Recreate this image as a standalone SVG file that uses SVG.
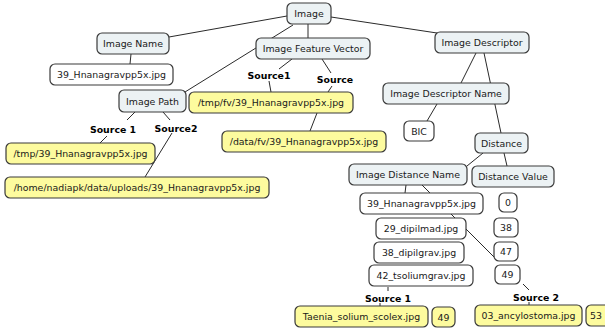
<svg xmlns="http://www.w3.org/2000/svg" width="605" height="329" viewBox="0 0 605 329">
<style>
.n rect{stroke:#3a3a3a;stroke-width:1.2;}
.b rect{fill:#ecf2f4;}
.w rect{fill:#ffffff;}
.y rect{fill:#fdfb9e;}
text{font-family:"DejaVu Sans","Verdana",sans-serif;font-size:9.4px;fill:#1a1a1a;text-anchor:middle;}
.lbl{font-weight:bold;fill:#000;}
#connectors line{stroke:#2a2a2a;stroke-width:1;}
</style>
<rect width="605" height="329" fill="#ffffff"/>
<g id="connectors">
<line x1="287" y1="16" x2="169" y2="37"/>
<line x1="331" y1="17" x2="437" y2="33"/>
<line x1="308" y1="24" x2="308" y2="38"/>
<line x1="293" y1="25" x2="185" y2="92"/>
<line x1="131" y1="54" x2="130" y2="64"/>
<line x1="292" y1="59" x2="279" y2="69"/>
<line x1="269" y1="81" x2="271" y2="92"/>
<line x1="322" y1="59" x2="331" y2="73"/>
<line x1="332" y1="86" x2="328" y2="92"/>
<line x1="317" y1="113" x2="310" y2="131"/>
<line x1="135" y1="112" x2="127" y2="120"/>
<line x1="107" y1="136" x2="100" y2="143"/>
<line x1="163" y1="112" x2="170" y2="120"/>
<line x1="172" y1="133" x2="145" y2="177"/>
<line x1="476" y1="53" x2="461" y2="83"/>
<line x1="484" y1="53" x2="501" y2="133"/>
<line x1="437" y1="104" x2="427" y2="121"/>
<line x1="483" y1="153" x2="467" y2="166"/>
<line x1="504" y1="153" x2="507" y2="166"/>
<line x1="406" y1="185" x2="405" y2="193"/>
<line x1="422" y1="185" x2="494" y2="257"/>
<line x1="388" y1="287" x2="388" y2="291"/>
<line x1="380" y1="303" x2="380" y2="306"/>
<line x1="523" y1="284" x2="529" y2="290"/>
<line x1="529" y1="302" x2="529" y2="305"/>
</g>
<g id="n-image" class="n b"><rect x="287" y="3" width="44" height="21" rx="5"/><text x="309" y="17">Image</text></g>
<g id="n-image-name" class="n b"><rect x="97" y="33" width="72" height="21" rx="5"/><text x="133" y="47">Image Name</text></g>
<g id="n-name-val" class="n w"><rect x="50" y="64" width="123" height="21" rx="5"/><text x="111.5" y="78">39_Hnanagravpp5x.jpg</text></g>
<g id="n-ifv" class="n b"><rect x="256" y="38" width="114" height="21" rx="5"/><text x="313" y="52">Image Feature Vector</text></g>
<g id="n-idesc" class="n b"><rect x="435" y="32" width="94" height="21" rx="5"/><text x="482" y="46">Image Descriptor</text></g>
<g id="n-idname" class="n b"><rect x="383" y="83" width="126" height="21" rx="5"/><text x="446" y="97">Image Descriptor Name</text></g>
<g id="n-ipath" class="n b"><rect x="119" y="90" width="67" height="22" rx="5"/><text x="152.5" y="104.5">Image Path</text></g>
<g id="n-tmpfv" class="n y"><rect x="189" y="92" width="164" height="21" rx="5"/><text x="271" y="106">/tmp/fv/39_Hnanagravpp5x.jpg</text></g>
<g id="n-datafv" class="n y"><rect x="222" y="131" width="164" height="21" rx="5"/><text x="304" y="145">/data/fv/39_Hnanagravpp5x.jpg</text></g>
<g id="n-tmp" class="n y"><rect x="6" y="143" width="149" height="21" rx="5"/><text x="80.5" y="157">/tmp/39_Hnanagravpp5x.jpg</text></g>
<g id="n-home" class="n y"><rect x="5" y="177" width="264" height="21" rx="5"/><text x="137" y="191">/home/nadiapk/data/uploads/39_Hnanagravpp5x.jpg</text></g>
<g id="n-bic" class="n w"><rect x="404" y="121" width="30" height="20" rx="5"/><text x="419" y="134.5">BIC</text></g>
<g id="n-distance" class="n b"><rect x="475" y="133" width="53" height="20" rx="5"/><text x="501.5" y="146.5">Distance</text></g>
<g id="n-idistname" class="n b"><rect x="349" y="164" width="118" height="21" rx="5"/><text x="408" y="178">Image Distance Name</text></g>
<g id="n-distval" class="n b"><rect x="472" y="166" width="82" height="21" rx="5"/><text x="513" y="180">Distance Value</text></g>
<g id="n-d1" class="n w"><rect x="360" y="193" width="123" height="21" rx="5"/><text x="421.5" y="207">39_Hnanagravpp5x.jpg</text></g>
<g id="n-d2" class="n w"><rect x="376" y="218" width="90" height="21" rx="5"/><text x="421" y="232">29_dipilmad.jpg</text></g>
<g id="n-d3" class="n w"><rect x="374" y="242" width="90" height="21" rx="5"/><text x="419" y="256">38_dipilgrav.jpg</text></g>
<g id="n-d4" class="n w"><rect x="369" y="265" width="104" height="21" rx="5"/><text x="421" y="279">42_tsoliumgrav.jpg</text></g>
<g id="n-v0" class="n w"><rect x="499" y="193" width="18" height="19" rx="5"/><text x="508" y="206">0</text></g>
<g id="n-v38" class="n w"><rect x="494" y="218" width="24" height="19" rx="5"/><text x="506" y="231">38</text></g>
<g id="n-v47" class="n w"><rect x="494" y="242" width="24" height="19" rx="5"/><text x="506" y="255">47</text></g>
<g id="n-v49" class="n w"><rect x="495" y="265" width="25" height="19" rx="5"/><text x="507.5" y="278">49</text></g>
<g id="n-taenia" class="n y"><rect x="295" y="306" width="133" height="21" rx="5"/><text x="361.5" y="320">Taenia_solium_scolex.jpg</text></g>
<g id="n-t49" class="n y"><rect x="432" y="307" width="23" height="20" rx="5"/><text x="443.5" y="320.5">49</text></g>
<g id="n-ancy" class="n y"><rect x="475" y="305" width="107" height="21" rx="5"/><text x="528.5" y="319">03_ancylostoma.jpg</text></g>
<g id="n-a53" class="n y"><rect x="586" y="305" width="30" height="21" rx="5"/><text x="590" y="319" style="text-anchor:start">53</text></g>
<g id="labels">
<text class="lbl" x="269" y="78.5">Source1</text>
<text class="lbl" x="335" y="82.5">Source</text>
<text class="lbl" x="113" y="132.5">Source 1</text>
<text class="lbl" x="176" y="131.5">Source2</text>
<text class="lbl" x="388" y="301.5">Source 1</text>
<text class="lbl" x="536" y="300.5">Source 2</text>
</g>
</svg>
